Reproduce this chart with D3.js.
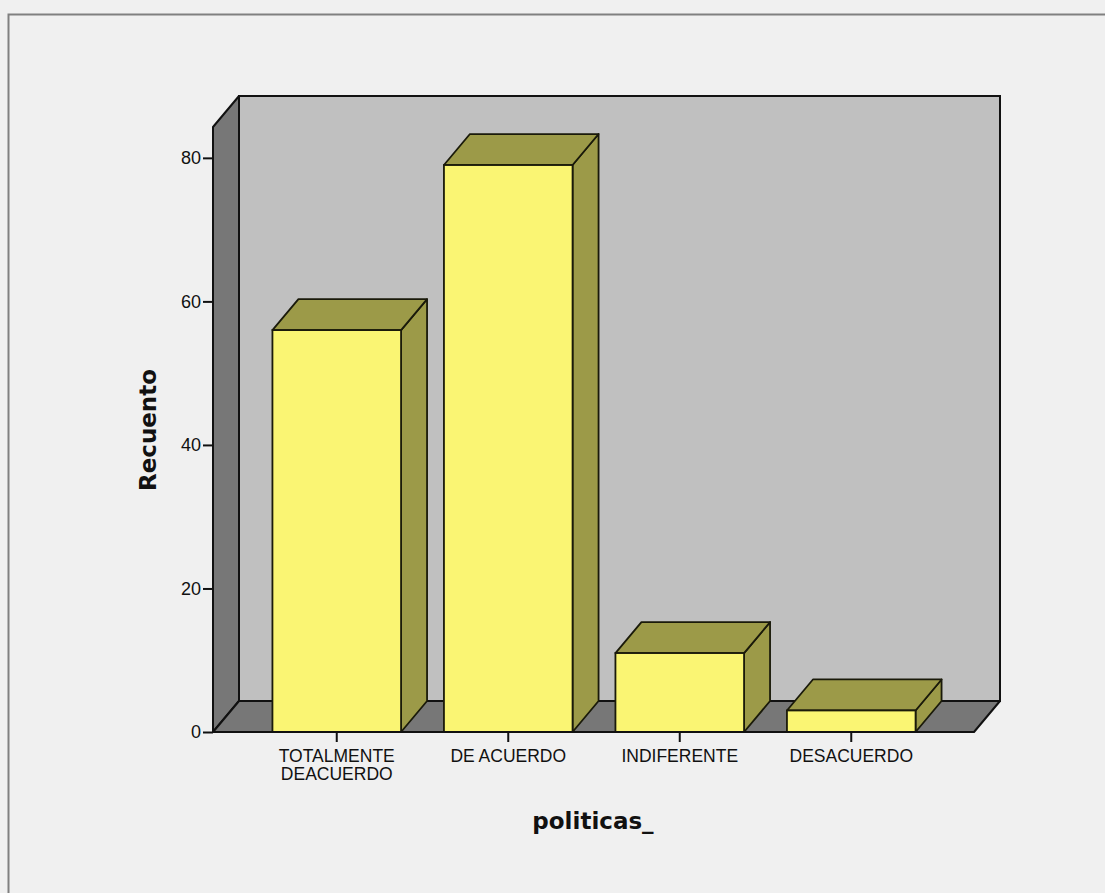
<!DOCTYPE html>
<html>
<head>
<meta charset="utf-8">
<script src="https://cdn.jsdelivr.net/npm/d3@7"></script>
<style>
  body { margin: 0; background: #f0f0f0; }
  svg { display: block; }
</style>
</head>
<body>
<div id="chart"></div>
<script>
// data
const categories = ["TOTALMENTE DEACUERDO", "DE ACUERDO", "INDIFERENTE", "DESACUERDO"];
const labelLines = [["TOTALMENTE", "DEACUERDO"], ["DE ACUERDO"], ["INDIFERENTE"], ["DESACUERDO"]];
const counts = [56, 79, 11, 3];
const yTicks = [0, 20, 40, 60, 80];

const w = 1105;
const h = 893;

// front plane of the 3D box, and the depth offset
const left = 213, right = 974, floorY = 732, topY = 127;
const dx = 26, dy = 31;

let svg = d3.select("#chart")
            .append("svg")
            .attr("width", w)
            .attr("height", h);

svg.append("rect")
    .attr("width", w).attr("height", h)
    .attr("fill", "#f0f0f0");

// outer frame
svg.append("rect")
    .attr("x", 8.5).attr("y", 14.5)
    .attr("width", w).attr("height", h)
    .attr("fill", "none")
    .attr("stroke", "#808080")
    .attr("stroke-width", 2);

// scales
let y = d3.scaleLinear()
    .domain([0, 84.3])
    .range([floorY, topY]);

let x = d3.scaleBand()
    .domain(categories)
    .range([left + 38, right - 37])
    .paddingInner(0.25)
    .paddingOuter(0.125);

const pts = (arr) => arr.map(p => p.join(",")).join(" ");

// back wall
svg.append("rect")
    .attr("x", left + dx).attr("y", topY - dy)
    .attr("width", right - left).attr("height", floorY - topY)
    .attr("fill", "#c0c0c0")
    .attr("stroke", "#111").attr("stroke-width", 2);

// left wall
svg.append("polygon")
    .attr("points", pts([[left, topY], [left + dx, topY - dy], [left + dx, floorY - dy], [left, floorY]]))
    .attr("fill", "#777777")
    .attr("stroke", "#111").attr("stroke-width", 2)
    .attr("stroke-linejoin", "round");

// floor
svg.append("polygon")
    .attr("points", pts([[left, floorY], [left + dx, floorY - dy], [right + dx, floorY - dy], [right, floorY]]))
    .attr("fill", "#777777")
    .attr("stroke", "#111").attr("stroke-width", 2)
    .attr("stroke-linejoin", "round");

// bars
let bars = svg.selectAll("g.bar")
    .data(categories.map((c, i) => ({ cat: c, value: counts[i] })))
    .enter()
    .append("g")
    .attr("class", "bar");

bars.append("polygon") // side
    .attr("points", d => {
        let x0 = x(d.cat) + x.bandwidth(), yv = y(d.value);
        return pts([[x0, yv], [x0 + dx, yv - dy], [x0 + dx, floorY - dy], [x0, floorY]]);
    })
    .attr("fill", "#9c9a48")
    .attr("stroke", "#1a1a0a").attr("stroke-width", 1.8)
    .attr("stroke-linejoin", "round");

bars.append("polygon") // top
    .attr("points", d => {
        let x0 = x(d.cat), x1 = x0 + x.bandwidth(), yv = y(d.value);
        return pts([[x0, yv], [x0 + dx, yv - dy], [x1 + dx, yv - dy], [x1, yv]]);
    })
    .attr("fill", "#9c9a48")
    .attr("stroke", "#1a1a0a").attr("stroke-width", 1.8)
    .attr("stroke-linejoin", "round");

bars.append("rect") // front
    .attr("x", d => x(d.cat))
    .attr("y", d => y(d.value))
    .attr("width", x.bandwidth())
    .attr("height", d => floorY - y(d.value))
    .attr("fill", "#faf573")
    .attr("stroke", "#1a1a0a").attr("stroke-width", 1.8);

// y axis
let yAxis = svg.append("g")
    .attr("transform", "translate(" + left + ",0)")
    .call(d3.axisLeft(y).tickValues(yTicks).tickSize(10).tickPadding(2).tickSizeOuter(0));
yAxis.select(".domain").remove();
yAxis.selectAll("line").attr("stroke", "#111").attr("stroke-width", 2);
yAxis.selectAll("text")
    .attr("font-family", "'Liberation Sans', Arial, sans-serif")
    .attr("font-size", 18)
    .attr("fill", "#111");

// front floor edge
svg.append("line")
    .attr("x1", left).attr("x2", right)
    .attr("y1", floorY).attr("y2", floorY)
    .attr("stroke", "#111").attr("stroke-width", 2);

// x axis
let xAxis = svg.append("g")
    .attr("transform", "translate(0," + floorY + ")")
    .call(d3.axisBottom(x).tickSize(10).tickSizeOuter(0));
xAxis.select(".domain").remove();
xAxis.selectAll("line").attr("stroke", "#111").attr("stroke-width", 2);
xAxis.selectAll("text")
    .attr("font-family", "'Liberation Sans', Arial, sans-serif")
    .attr("font-size", 17.5)
    .attr("fill", "#111")
    .attr("y", 0)
    .attr("dy", null)
    .text(null)
    .each(function (d, i) {
        let t = d3.select(this);
        labelLines[i].forEach((line, k) => {
            t.append("tspan")
                .attr("x", 0)
                .attr("y", 30 + k * 18)
                .text(line);
        });
    });

// axis titles
svg.append("text")
    .attr("transform", "translate(156,430) rotate(-90)")
    .attr("text-anchor", "middle")
    .attr("font-family", "'DejaVu Sans', sans-serif")
    .attr("font-weight", "bold")
    .attr("font-size", 23)
    .attr("fill", "#111")
    .text("Recuento");

svg.append("text")
    .attr("x", 593)
    .attr("y", 829)
    .attr("text-anchor", "middle")
    .attr("font-family", "'DejaVu Sans', sans-serif")
    .attr("font-weight", "bold")
    .attr("font-size", 23)
    .attr("fill", "#111")
    .text("politicas_");
</script>
</body>
</html>
